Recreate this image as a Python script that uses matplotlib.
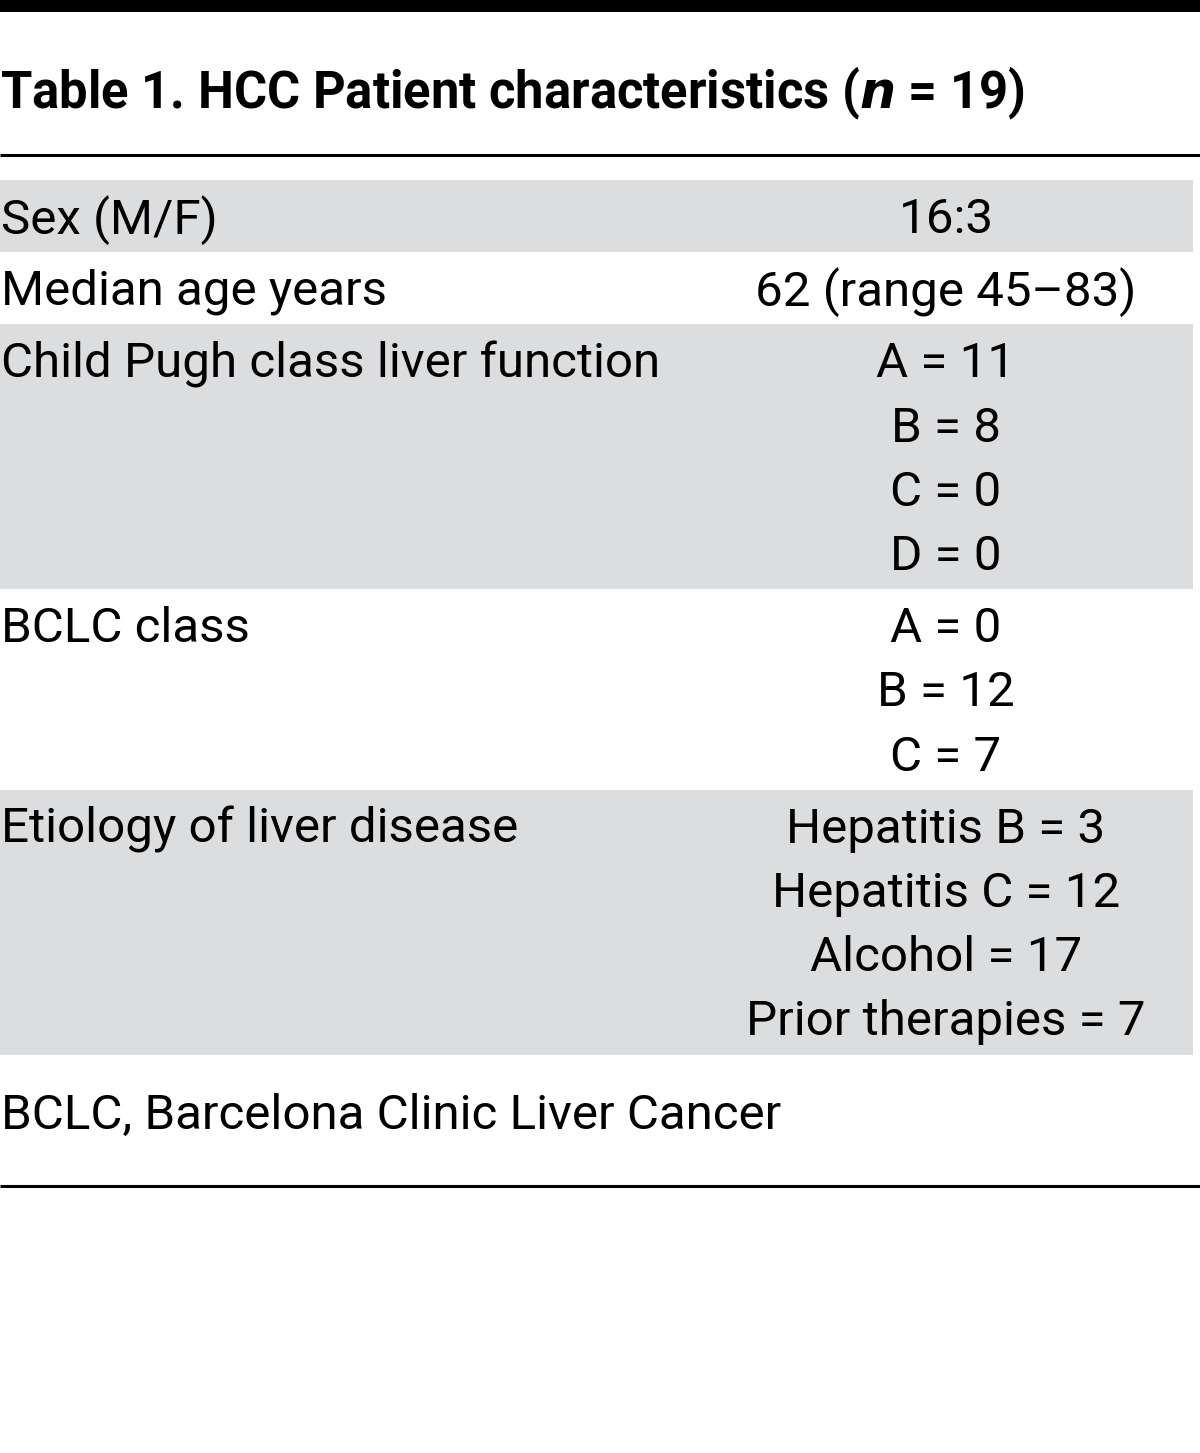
import matplotlib
matplotlib.use('Agg')
import matplotlib.pyplot as plt
from matplotlib import font_manager

names = {f.name for f in font_manager.fontManager.ttflist}
fam = 'Liberation Sans Narrow' if 'Liberation Sans Narrow' in names else 'Roboto'
plt.rcParams['font.family'] = [fam, 'DejaVu Sans']

title = "Table 1. HCC Patient characteristics ($\\mathbfit{n}$ = 19)"
row_labels = ["Sex (M/F)", "Median age years", "Child Pugh class liver function",
              "BCLC class", "Etiology of liver disease"]
row_values = [
    ["16:3"],
    ["62 (range 45\u201383)"],
    ["A = 11", "B = 8", "C = 0", "D = 0"],
    ["A = 0", "B = 12", "C = 7"],
    ["Hepatitis B = 3", "Hepatitis C = 12", "Alcohol = 17", "Prior therapies = 7"],
]
footnote = "BCLC, Barcelona Clinic Liver Cancer"

W, H = 1200, 1453
fig = plt.figure(figsize=(12, 14.53), dpi=100)
ax = fig.add_axes([0, 0, 1, 1])
ax.set_xlim(0, W)
ax.set_ylim(H, 0)
ax.axis('off')

fs = 35.5
line_h = 64.2
gray = '#dcdddf'

# top bar and rule under title
ax.axhspan(0, 12, color='black', lw=0)
ax.plot([0, W], [155, 155], color='black', lw=2.2, solid_capstyle='butt')

ax.text(0, 93, title, fontsize=36.5, fontweight='bold', va='center', ha='left')

y = 180
for i, (lab, vals) in enumerate(zip(row_labels, row_values)):
    h = len(vals) * line_h + 8
    if i % 2 == 0:
        ax.axhspan(y, y + h, xmin=0, xmax=1193 / W, color=gray, lw=0)
    ax.text(1, y + 40, lab, fontsize=fs, va='center', ha='left')
    for j, v in enumerate(vals):
        ax.text(946, y + 40 + j * line_h, v, fontsize=fs, va='center', ha='center')
    y += h

ax.text(1, 1116, footnote, fontsize=fs, va='center', ha='left')
ax.plot([0, W], [1186, 1186], color='black', lw=2.2, solid_capstyle='butt')

fig.savefig('out.png', dpi=100)
